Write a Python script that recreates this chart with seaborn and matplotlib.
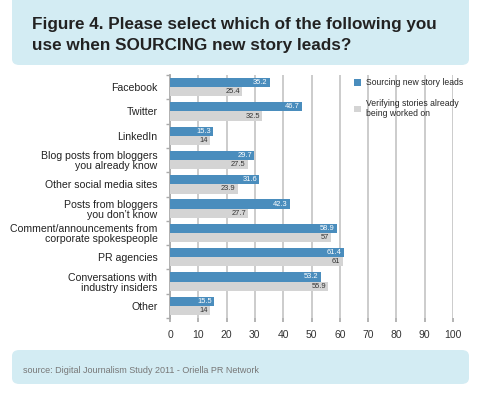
import numpy as np
import pandas as pd
import seaborn as sns
import matplotlib.pyplot as plt
from matplotlib.patches import FancyBboxPatch

plt.switch_backend("Agg")

# Chart data.
categories = [
    "Facebook",
    "Twitter",
    "LinkedIn",
    "Blog posts from bloggers\nyou already know",
    "Other social media sites",
    "Posts from bloggers\nyou don\u2019t know",
    "Comment/announcements from\ncorporate spokespeople",
    "PR agencies",
    "Conversations with\nindustry insiders",
    "Other",
]
sourcing = [35.2, 46.7, 15.3, 29.7, 31.6, 42.3, 58.9, 61.4, 53.2, 15.5]
verifying = [25.4, 32.5, 14, 27.5, 23.9, 27.7, 57, 61, 55.9, 14]
series_names = ["Sourcing new story leads", "Verifying stories already\nbeing worked on"]
x_ticks = [0, 10, 20, 30, 40, 50, 60, 70, 80, 90, 100]

BLUE = "#4a8dbd"
GREY = "#d4d4d4"
PANEL = "#d3ecf3"

df = pd.DataFrame({
    "Category": categories * 2,
    "Value": sourcing + verifying,
    "Series": [series_names[0]] * len(categories) + [series_names[1]] * len(categories),
})

sns.set_theme(style="white")
plt.rcParams["font.family"] = ["Liberation Sans", "DejaVu Sans"]

fig = plt.figure(figsize=(4.95, 4.0), dpi=100)
fig.patch.set_facecolor("white")

# Light blue header and footer panels
fig.patches.append(FancyBboxPatch((12 / 495, 1 - 65 / 400), 457 / 495, 75 / 400,
                                  boxstyle="round,pad=0,rounding_size=0.015",
                                  transform=fig.transFigure, facecolor=PANEL,
                                  edgecolor="none", zorder=0))
fig.patches.append(FancyBboxPatch((12 / 495, 1 - 384 / 400), 457 / 495, 34 / 400,
                                  boxstyle="round,pad=0,rounding_size=0.015",
                                  transform=fig.transFigure, facecolor=PANEL,
                                  edgecolor="none", zorder=0))

fig.text(32 / 495, 1 - 29 / 400, "Figure 4. Please select which of the following you",
         fontsize=12.3, fontweight="bold", color="#222222")
fig.text(32 / 495, 1 - 50 / 400, "use when SOURCING new story leads?",
         fontsize=12.3, fontweight="bold", color="#222222")
fig.text(23 / 495, 1 - 373 / 400, "source: Digital Journalism Study 2011 - Oriella PR Network",
         fontsize=6.5, color="#777777")

ax = fig.add_axes([170 / 495, 1 - 318 / 400, 283 / 495, 243 / 400])
sns.barplot(data=df, y="Category", x="Value", hue="Series", orient="h",
            palette=[BLUE, GREY], width=0.76, saturation=1, linewidth=0,
            edgecolor="none", ax=ax, zorder=3)

ax.set_xlim(0, 100)
ax.set_ylim(len(categories) - 0.5, -0.5)
ax.set_xticks(x_ticks)
ax.set_xlabel("")
ax.set_ylabel("")
ax.xaxis.grid(True, color="#c8c8c8", linewidth=1.3, zorder=0)
ax.set_axisbelow(True)
for side in ["top", "right", "bottom"]:
    ax.spines[side].set_visible(False)
ax.spines["left"].set_color("#aaaaaa")
ax.spines["left"].set_linewidth(1.3)

ax.tick_params(axis="x", bottom=True, length=3, color="#aaaaaa", pad=6,
               labelsize=7.5, labelcolor="#333333")
ax.tick_params(axis="y", left=False, pad=3, labelsize=7.55, labelcolor="#222222")
ax.set_yticks(np.arange(-0.5, len(categories), 1), minor=True)
ax.tick_params(axis="y", which="minor", left=True, length=3, color="#aaaaaa")
for lab in ax.get_yticklabels():
    lab.set_linespacing(1.0)

# Value labels inside the end of each bar
for cont, col in zip(ax.containers, ["white", "#333333"]):
    labels = [("%g" % v) for v in cont.datavalues]
    texts = ax.bar_label(cont, labels=labels, label_type="edge", padding=-1.5,
                         fontsize=5.4, color=col)
    for t in texts:
        t.set_ha("right")

handles, _ = ax.get_legend_handles_labels()
ax.get_legend().remove()
fig.legend(handles, series_names, loc="upper left",
           bbox_to_anchor=(351 / 495, 1 - 75 / 400), frameon=False,
           fontsize=6.2, handlelength=0.8, handleheight=0.8, handletextpad=0.6,
           labelspacing=1.3, borderaxespad=0)

fig.savefig("out.png", dpi=100)
plt.close(fig)
